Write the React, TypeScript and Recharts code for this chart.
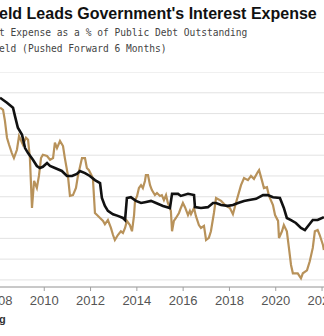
import { LineChart, Line, XAxis, YAxis, CartesianGrid } from 'recharts';

// Interest expense as % of public debt outstanding (black)
const expenseDates = [
  2008.09, 2008.39, 2008.65, 2008.73, 2008.86, 2009.04, 2009.17, 2009.3, 2009.51, 2009.68,
  2009.81, 2009.94, 2010.12, 2010.25, 2010.46, 2010.76, 2010.98, 2011.2, 2011.41, 2011.54,
  2011.76, 2011.97, 2012.19, 2012.41, 2012.49, 2012.62, 2012.75, 2012.97, 2013.18, 2013.4,
  2013.49, 2013.57, 2013.74, 2013.96, 2014.18, 2014.35, 2014.61, 2014.83, 2015.13, 2015.43,
  2015.52, 2015.78, 2015.9, 2016.21, 2016.47, 2016.51, 2016.77, 2017.07, 2017.29, 2017.42,
  2017.64, 2017.93, 2018.15, 2018.37, 2018.63, 2018.85, 2019.15, 2019.45, 2019.66, 2019.88,
  2020.18, 2020.35, 2020.48, 2020.66, 2020.87, 2021.09, 2021.26, 2021.43, 2021.6, 2021.81,
  2022.08,
];
const expenseValues = [
  4.88, 4.76, 4.64, 4.45, 4.16, 3.99, 3.67, 3.55, 3.39, 3.24,
  3.19, 3.22, 3.31, 3.24, 3.19, 3.12, 3.0, 3.0, 3.05, 3.12,
  3.07, 3.0, 2.9, 2.83, 2.47, 2.28, 2.16, 2.08, 2.04, 1.99,
  1.94, 2.47, 2.49, 2.4, 2.35, 2.37, 2.4, 2.35, 2.28, 2.23,
  2.57, 2.57, 2.52, 2.57, 2.54, 2.25, 2.23, 2.25, 2.35, 2.35,
  2.3, 2.28, 2.3, 2.35, 2.4, 2.42, 2.45, 2.54, 2.54, 2.49,
  2.47, 2.23, 1.99, 1.94, 1.87, 1.75, 1.7, 1.82, 1.94, 1.94,
  2.01,
];

// 10-year yield, pushed forward 6 months (gold)
const yieldDates = [
  2008.09, 2008.22, 2008.3, 2008.39, 2008.48, 2008.6, 2008.69, 2008.82, 2008.91, 2009.08,
  2009.21, 2009.3, 2009.38, 2009.47, 2009.56, 2009.68, 2009.77, 2009.86, 2009.94, 2010.12,
  2010.25, 2010.38, 2010.46, 2010.55, 2010.68, 2010.81, 2010.89, 2011.02, 2011.11, 2011.24,
  2011.37, 2011.46, 2011.63, 2011.76, 2011.84, 2011.93, 2012.1, 2012.19, 2012.28, 2012.41,
  2012.54, 2012.62, 2012.75, 2012.88, 2012.97, 2013.05, 2013.18, 2013.31, 2013.4, 2013.49,
  2013.57, 2013.7, 2013.79, 2013.88, 2013.92, 2014.01, 2014.09, 2014.18, 2014.26, 2014.35,
  2014.39, 2014.48, 2014.57, 2014.65, 2014.78, 2014.87, 2015.0, 2015.08, 2015.17, 2015.26,
  2015.34, 2015.47, 2015.52, 2015.6, 2015.69, 2015.82, 2015.9, 2015.99, 2016.08, 2016.21,
  2016.29, 2016.34, 2016.47, 2016.55, 2016.68, 2016.77, 2016.9, 2016.99, 2017.11, 2017.2,
  2017.33, 2017.42, 2017.64, 2017.85, 2018.02, 2018.15, 2018.28, 2018.5, 2018.63, 2018.8,
  2018.93, 2019.06, 2019.23, 2019.28, 2019.4, 2019.49, 2019.62, 2019.71, 2019.88, 2019.97,
  2020.1, 2020.14, 2020.27, 2020.35, 2020.48, 2020.57, 2020.66, 2020.74, 2020.95, 2021.09,
  2021.17, 2021.35, 2021.47, 2021.6, 2021.69, 2021.81, 2021.9, 2022.04, 2022.08,
];
const yieldValues = [
  4.64, 4.59, 4.33, 3.92, 3.75, 3.55, 3.43, 3.63, 3.96, 3.75,
  3.92, 3.87, 3.43, 2.23, 2.88, 2.71, 3.0, 3.43, 3.51, 3.48,
  3.39, 3.43, 3.8, 3.67, 3.84, 3.72, 3.43, 3.02, 2.52, 2.54,
  2.71, 3.02, 3.43, 3.43, 3.19, 3.14, 2.95, 2.11, 2.06, 1.99,
  1.92, 1.84, 1.94, 1.75, 1.58, 1.46, 1.58, 1.67, 1.63, 1.75,
  1.92, 1.82, 1.67, 2.06, 2.4, 2.52, 2.71, 2.78, 2.71, 2.88,
  3.02, 3.02, 2.78, 2.66, 2.54, 2.59, 2.52, 2.54, 2.42, 2.54,
  2.35, 2.16, 1.67, 1.92, 1.99, 2.11, 2.23, 2.35, 2.25, 2.06,
  2.16, 2.08, 2.23, 2.04, 1.82, 1.75, 1.8, 1.46, 1.51, 1.67,
  2.11, 2.47, 2.4, 2.28, 2.23, 2.08, 2.35, 2.78, 2.95, 2.9,
  3.0, 2.93, 3.1, 3.14, 2.9, 2.71, 2.73, 2.52, 2.3, 2.06,
  1.92, 1.51, 1.67, 1.82, 1.67, 1.27, 0.86, 0.66, 0.66, 0.54,
  0.66, 0.73, 0.95, 1.27, 1.67, 1.7, 1.58, 1.34, 1.22,
];

const yearTicks = [2008, 2010, 2012, 2014, 2016, 2018, 2020, 2022];
const gridTicks = [0.5, 1, 1.5, 2, 2.5, 3, 3.5, 4, 4.5, 5, 5.5];

const expenseData = expenseDates.map((d, i) => ({ date: d, value: expenseValues[i] }));
const yieldData = yieldDates.map((d, i) => ({ date: d, value: yieldValues[i] }));

export default function App() {
  return (
    <div
      style={{
        position: 'absolute',
        left: 0,
        top: 0,
        width: 324,
        height: 336,
        overflow: 'hidden',
        background: '#fff',
      }}
    >
      <div
        style={{
          position: 'absolute',
          left: -1,
          top: 5,
          whiteSpace: 'nowrap',
          fontFamily: '"Liberation Sans", Arial, sans-serif',
          fontWeight: 'bold',
          fontSize: 16,
          color: '#111',
        }}
      >
        eld Leads Government's Interest Expense
      </div>
      <div
        style={{
          position: 'absolute',
          left: -1,
          top: 25,
          whiteSpace: 'pre',
          fontFamily: '"DejaVu Sans Mono", monospace',
          fontSize: 9.6,
          lineHeight: '16px',
          color: '#444',
        }}
      >
        {'t Expense as a % of Public Debt Outstanding\neld (Pushed Forward 6 Months)'}
      </div>

      <div style={{ position: 'absolute', left: -40, top: 72 }}>
        <LineChart width={400} height={245} margin={{ top: 0, right: 0, bottom: 0, left: 0 }}>
          <CartesianGrid vertical={false} stroke="#e2e2e2" />
          <XAxis
            dataKey="date"
            type="number"
            domain={[2006.36, 2023.64]}
            ticks={yearTicks}
            interval={0}
            allowDataOverflow
            height={30}
            axisLine={{ stroke: '#a0a0a0' }}
            tickLine={{ stroke: '#a0a0a0' }}
            tickSize={4}
            tickMargin={5}
            tick={{ fill: '#555', fontSize: 13, fontFamily: '"Liberation Sans", Arial, sans-serif' }}
          />
          <YAxis
            hide
            domain={[0.33, 5.5]}
            ticks={gridTicks}
            interval={0}
            allowDataOverflow
          />
          <Line
            data={yieldData}
            dataKey="value"
            stroke="#b8925a"
            strokeWidth={2.2}
            dot={false}
            isAnimationActive={false}
          />
          <Line
            data={expenseData}
            dataKey="value"
            stroke="#111"
            strokeWidth={2.6}
            dot={false}
            isAnimationActive={false}
          />
        </LineChart>
      </div>

      <div
        style={{
          position: 'absolute',
          left: -1,
          top: 313,
          fontFamily: '"Liberation Sans", Arial, sans-serif',
          fontWeight: 'bold',
          fontSize: 11,
          color: '#333',
        }}
      >
        g
      </div>
    </div>
  );
}
